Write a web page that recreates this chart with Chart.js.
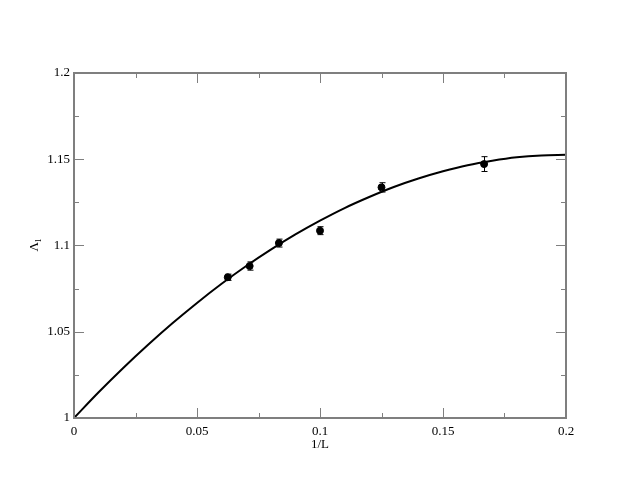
<!DOCTYPE html>
<html>
<head>
<meta charset="utf-8">
<script src="https://cdn.jsdelivr.net/npm/chart.js@4/dist/chart.umd.min.js"></script>
<style>
  html, body { margin: 0; padding: 0; background: #fff; }
  #wrap { width: 638px; height: 493px; }
</style>
</head>
<body>
<div id="wrap"><canvas id="chart"></canvas></div>
<script>
// measured points (1/L, Lambda_1, error)
const invL = [0.0625, 0.0714, 0.0833, 0.1, 0.125, 0.1667];
const lambda1 = [1.0816, 1.0881, 1.1014, 1.1086, 1.1337, 1.1472];
const lambdaErr = [0.0018, 0.0024, 0.0023, 0.0023, 0.0027, 0.0043];

// fit curve
const fitX = [0, 0.01, 0.02, 0.03, 0.04, 0.05, 0.06, 0.07, 0.08, 0.09, 0.1,
  0.11, 0.12, 0.13, 0.14, 0.15, 0.16, 0.17, 0.18, 0.19, 0.2];
const fitY = [1.0, 1.0149, 1.0290, 1.0423, 1.0549, 1.0667, 1.0778, 1.0881, 1.0976, 1.1064, 1.1144,
  1.1217, 1.1281, 1.1339, 1.1388, 1.1430, 1.1465, 1.1491, 1.1511, 1.1522, 1.1526];

const xTicks = [0, 0.05, 0.1, 0.15, 0.2];
const yTicks = [1, 1.05, 1.1, 1.15, 1.2];
const xMinor = [0.025, 0.075, 0.125, 0.175];
const yMinor = [1.025, 1.075, 1.125, 1.175];

const FRAME = '#7f7f7f';
const FONT = '"Liberation Serif", "Times New Roman", serif';

// frame with inward ticks on all four sides, plus axis titles
const framePlugin = {
  id: 'frame',
  afterDraw(chart) {
    const { ctx, chartArea: a, scales: { x, y } } = chart;
    ctx.save();
    ctx.strokeStyle = FRAME;
    ctx.lineWidth = 2;
    ctx.strokeRect(a.left, a.top, a.right - a.left, a.bottom - a.top);
    ctx.lineWidth = 1;
    const tick = (list, len) => {
      list.forEach(v => {
        const px = Math.round(x.getPixelForValue(v)) + 0.5;
        ctx.beginPath();
        ctx.moveTo(px, a.bottom); ctx.lineTo(px, a.bottom - len);
        ctx.moveTo(px, a.top); ctx.lineTo(px, a.top + len);
        ctx.stroke();
      });
    };
    const tickY = (list, len) => {
      list.forEach(v => {
        const py = Math.round(y.getPixelForValue(v)) + 0.5;
        ctx.beginPath();
        ctx.moveTo(a.left, py); ctx.lineTo(a.left + len, py);
        ctx.moveTo(a.right, py); ctx.lineTo(a.right - len, py);
        ctx.stroke();
      });
    };
    tick(xTicks.slice(1, -1), 10);
    tick(xMinor, 5);
    tickY(yTicks.slice(1, -1), 10);
    tickY(yMinor, 5);

    ctx.fillStyle = '#000';
    ctx.font = '13px ' + FONT;
    ctx.textAlign = 'center';
    ctx.textBaseline = 'middle';
    ctx.fillText('1/L', (a.left + a.right) / 2, 445);

    // y title: Lambda with subscript 1, rotated
    ctx.textAlign = 'left';
    ctx.textBaseline = 'alphabetic';
    ctx.translate(38, (a.top + a.bottom) / 2);
    ctx.rotate(-Math.PI / 2);
    ctx.fillText('\u039B', -6, 0);
    ctx.font = '8px ' + FONT;
    ctx.fillText('1', 3, 3);
    ctx.restore();
  }
};

// vertical error bars with caps
const errorBars = {
  id: 'errorBars',
  afterDatasetsDraw(chart) {
    const { ctx, scales: { x, y } } = chart;
    ctx.save();
    ctx.strokeStyle = '#000';
    ctx.lineWidth = 1;
    invL.forEach((v, i) => {
      const px = Math.round(x.getPixelForValue(v)) + 0.5;
      const top = y.getPixelForValue(lambda1[i] + lambdaErr[i]);
      const bot = y.getPixelForValue(lambda1[i] - lambdaErr[i]);
      ctx.beginPath();
      ctx.moveTo(px, top); ctx.lineTo(px, bot);
      ctx.moveTo(px - 3, top); ctx.lineTo(px + 3, top);
      ctx.moveTo(px - 3, bot); ctx.lineTo(px + 3, bot);
      ctx.stroke();
    });
    ctx.restore();
  }
};

new Chart(document.getElementById('chart'), {
  type: 'scatter',
  data: {
    datasets: [
      {
        type: 'line',
        data: fitX.map((v, i) => ({ x: v, y: fitY[i] })),
        borderColor: '#000',
        borderWidth: 2,
        pointRadius: 0,
        cubicInterpolationMode: 'monotone',
        fill: false
      },
      {
        data: invL.map((v, i) => ({ x: v, y: lambda1[i] })),
        backgroundColor: '#000',
        borderColor: '#000',
        pointRadius: 3.5,
        pointHoverRadius: 3.5
      }
    ]
  },
  options: {
    responsive: true,
    maintainAspectRatio: false,
    animation: false,
    events: [],
    layout: { padding: { top: 73, right: 72, left: 0, bottom: 0 } },
    plugins: { legend: { display: false }, tooltip: { enabled: false } },
    scales: {
      x: {
        type: 'linear',
        min: 0, max: 0.2,
        afterBuildTicks: s => { s.ticks = xTicks.map(v => ({ value: v })); },
        afterFit: s => { s.height = 75; },
        grid: { display: false, drawTicks: false },
        border: { display: false },
        ticks: { color: '#000', padding: 6, font: { family: FONT, size: 13 }, callback: v => String(v) }
      },
      y: {
        type: 'linear',
        min: 1, max: 1.2,
        afterBuildTicks: s => { s.ticks = yTicks.map(v => ({ value: v })); },
        afterFit: s => { s.width = 74; },
        grid: { display: false, drawTicks: false },
        border: { display: false },
        ticks: { color: '#000', padding: 4, font: { family: FONT, size: 13 }, callback: v => String(v) }
      }
    }
  },
  plugins: [framePlugin, errorBars]
});
</script>
</body>
</html>
